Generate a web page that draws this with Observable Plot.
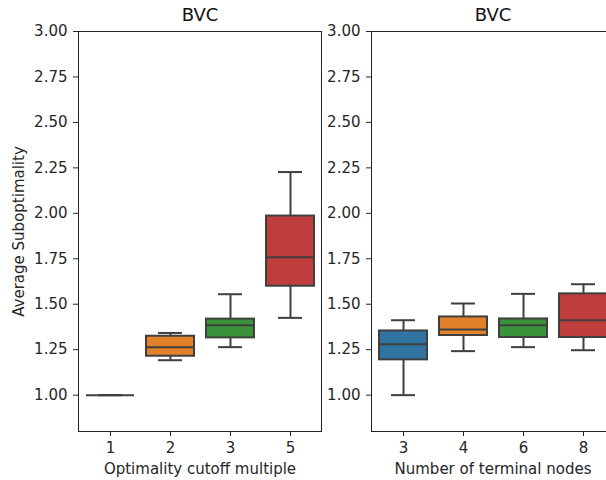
<!DOCTYPE html>
<html><head><meta charset="utf-8">
<script src="https://cdn.jsdelivr.net/npm/d3@7"></script>
<script src="https://cdn.jsdelivr.net/npm/@observablehq/plot@0.6"></script>
<style>
body{margin:0;width:606px;height:480px;overflow:hidden;background:#fff;position:relative;font-family:"DejaVu Sans",sans-serif;}
#left{position:absolute;left:0;top:0;width:330px;height:480px;}
#right{position:absolute;left:330px;top:0;width:284px;height:480px;}
svg{max-width:none !important;}
</style></head><body>
<div id="left"></div><div id="right"></div>
<script>
const titles = ["BVC", "BVC"];
const yLabel = "Average Suboptimality";
const xLabels = ["Optimality cutoff multiple", "Number of terminal nodes"];
const yTicks = [1.00, 1.25, 1.50, 1.75, 2.00, 2.25, 2.50, 2.75, 3.00];
const boxColors = ["#3274a1", "#e1812c", "#3a923a", "#c03d3e"];

// Left panel: optimality cutoff multiple
const cutoffCats   = ["1", "2", "3", "5"];
const cutoffMin    = [1.00, 1.192, 1.264, 1.425];
const cutoffQ1     = [1.00, 1.214, 1.315, 1.599];
const cutoffMedian = [1.00, 1.264, 1.385, 1.758];
const cutoffQ3     = [1.00, 1.324, 1.418, 1.985];
const cutoffMax    = [1.00, 1.342, 1.555, 2.227];

// Right panel: number of terminal nodes
const nodeCats   = ["3", "4", "6", "8"];
const nodeMin    = [1.00, 1.242, 1.264, 1.247];
const nodeQ1     = [1.194, 1.328, 1.317, 1.317];
const nodeMedian = [1.280, 1.361, 1.385, 1.412];
const nodeQ3     = [1.353, 1.430, 1.419, 1.557];
const nodeMax    = [1.412, 1.504, 1.557, 1.610];

const lineColor = "#3f3f3f";

function rowsOf(cats, mn, q1, md, q3, mx) {
  return cats.map((c, i) => ({cat: c, min: mn[i], q1: q1[i], median: md[i], q3: q3[i], max: mx[i]}));
}

function panel(cats, rows, title, xlabel, showY, width, marginLeft, marginRight) {
  return Plot.plot({
    width, height: 480,
    marginLeft, marginRight, marginTop: 31, marginBottom: 49,
    style: {fontFamily: "DejaVu Sans, sans-serif", fontSize: "15px", color: "#262626", background: "white", overflow: "visible"},
    x: {domain: cats, paddingInner: 0.2, paddingOuter: 0.1, label: null},
    y: {domain: [0.8, 3.0], label: null},
    color: {domain: cats, range: boxColors},
    marks: [
      Plot.axisY({ticks: yTicks, tickFormat: d3.format(".2f"), tickSize: 5, tickPadding: 6,
        label: showY ? yLabel : null, labelAnchor: "center", labelArrow: "none", labelOffset: 65}),
      Plot.axisX({tickSize: 5, tickPadding: 6, label: xlabel, labelAnchor: "center", labelArrow: "none", labelOffset: 42}),
      Plot.ruleX(rows, {x: "cat", y1: "q3", y2: "max", stroke: lineColor, strokeWidth: 2}),
      Plot.ruleX(rows, {x: "cat", y1: "min", y2: "q1", stroke: lineColor, strokeWidth: 2}),
      Plot.tickY(rows, {x: "cat", y: "max", insetLeft: 12, insetRight: 12, stroke: lineColor, strokeWidth: 2}),
      Plot.tickY(rows, {x: "cat", y: "min", insetLeft: 12, insetRight: 12, stroke: lineColor, strokeWidth: 2}),
      Plot.barY(rows, {x: "cat", y1: "q1", y2: "q3", fill: "cat", stroke: lineColor, strokeWidth: 2}),
      Plot.tickY(rows, {x: "cat", y: "median", stroke: lineColor, strokeWidth: 2}),
      Plot.frame({stroke: "#222", strokeWidth: 1}),
      Plot.text([title], {frameAnchor: "top", lineAnchor: "middle", dy: -16, text: d => d, fontSize: 18, fill: "#111"})
    ]
  });
}

document.getElementById("left").append(
  panel(cutoffCats, rowsOf(cutoffCats, cutoffMin, cutoffQ1, cutoffMedian, cutoffQ3, cutoffMax),
        titles[0], xLabels[0], true, 330, 78, 9)
);
document.getElementById("right").append(
  panel(nodeCats, rowsOf(nodeCats, nodeMin, nodeQ1, nodeMedian, nodeQ3, nodeMax),
        titles[1], xLabels[1], false, 284, 41, 0)
);
</script>
</body></html>
